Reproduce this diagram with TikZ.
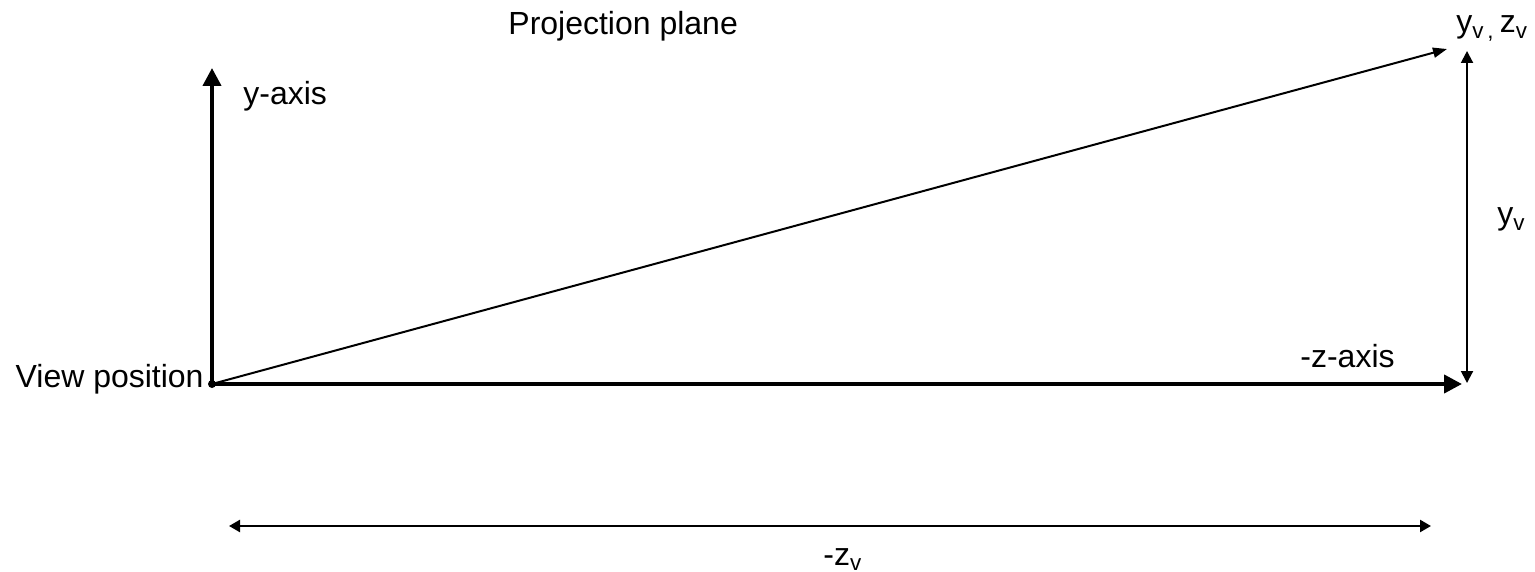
\documentclass[tikz,border=0pt]{standalone}
\usepackage{fontspec}
\setmainfont{Liberation Sans}
\usetikzlibrary{arrows.meta}

\begin{document}
\begin{tikzpicture}[x=0.5pt, y=-0.5pt,
  lbl/.style={inner sep=0pt, font=\fontsize{16}{19}\selectfont},
  axis/.style={line width=2pt, -{Triangle[length=9pt, width=9pt]}},
  guide/.style={line width=1pt},
  dim/.style={line width=1.2pt, {Triangle[length=5.5pt, width=6pt]}-{Triangle[length=5.5pt, width=6pt]}}]
\useasboundingbox (0,0) rectangle (1535,572);
% points of the construction
\coordinate (view) at (212,384);
\coordinate (ytip) at (212,68);
\coordinate (ztip) at (1462,384);
\coordinate (ptip) at (1447,49);
\coordinate (ytop) at (1467,51);
\coordinate (ybot) at (1467,383);
\coordinate (zl) at (229,526);
\coordinate (zr) at (1431,526);
% labels
\node[lbl, anchor=base west] (plane) at (508,35) {Projection plane};
\node[lbl, anchor=base west] (yzv) at (1456,33) {y\textsubscript{v\,,}\,z\textsubscript{v}};
\node[lbl, anchor=base west] (yaxis) at (243,105) {y-axis};
\node[lbl, anchor=base west] (yv) at (1497,225) {y\textsubscript{v}};
\node[lbl, anchor=base west] (zaxis) at (1300,367) {-z-axis};
\node[lbl, anchor=base east] (viewlbl) at (204,387) {View position};
\node[lbl, anchor=base west] (zv) at (823,565) {-z\textsubscript{v}};
% axes and rays
\draw[axis] (view) -- (ytip);
\draw[axis] (view) -- (ztip);
\draw[guide, -{Triangle[length=7pt, width=5pt]}] (view) -- (ptip);
\draw[guide, {Triangle[length=6pt, width=6pt]}-{Triangle[length=6pt, width=6pt]}] (ytop) -- (ybot);
\draw[dim] (zl) -- (zr);
\fill (view) circle (2pt);
\end{tikzpicture}
\end{document}
